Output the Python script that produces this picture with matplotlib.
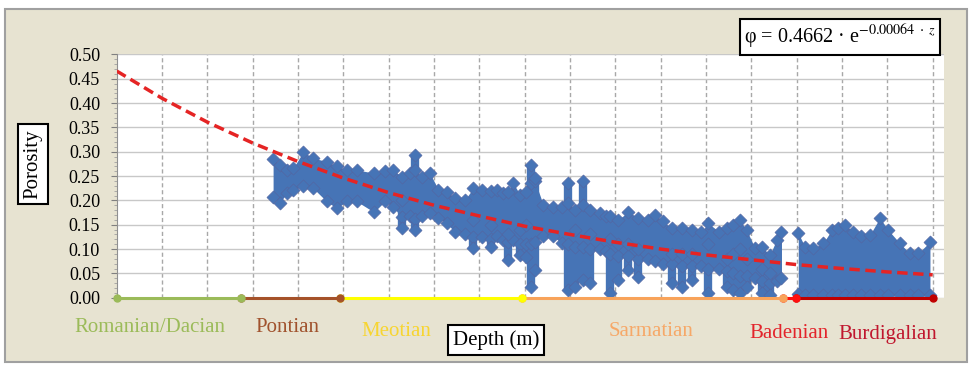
import matplotlib.pyplot as plt
import numpy as np
from matplotlib.patches import Rectangle
from matplotlib.ticker import MultipleLocator

plt.rcParams['font.family'] = ['Liberation Serif', 'DejaVu Serif']
plt.rcParams['mathtext.fontset'] = 'stix'

# --- data ---
# dense porosity band: depth (m), upper edge, lower edge
band_depth = [690, 720, 750, 780, 823, 867, 926, 970, 1015, 1059, 1135, 1183, 1220, 1257,
              1294, 1316, 1345, 1382, 1419, 1456, 1492, 1536, 1573, 1610, 1650, 1676, 1705,
              1727, 1749, 1779, 1808, 1830, 1845, 1882, 1926, 1963, 1992, 2022, 2058, 2088,
              2132, 2160, 2176, 2213, 2257, 2301, 2345, 2375, 2411, 2448, 2492, 2536, 2580,
              2610, 2657, 2691, 2720, 2749, 2779, 2816, 2845, 2882, 2911, 2933,
              3007, 3036, 3073, 3117, 3154, 3183, 3213, 3249, 3286, 3323, 3367, 3404, 3455,
              3499, 3536, 3588]
band_top = [0.285, 0.273, 0.263, 0.267, 0.300, 0.287, 0.280, 0.270, 0.263, 0.263, 0.256, 0.260,
            0.263, 0.249, 0.256, 0.262, 0.249, 0.256, 0.222, 0.218, 0.205, 0.201, 0.225, 0.222,
            0.220, 0.222, 0.215, 0.218, 0.236, 0.212, 0.218, 0.235, 0.240, 0.191, 0.187, 0.187,
            0.195, 0.181, 0.190, 0.181, 0.174, 0.168, 0.167, 0.160, 0.177, 0.164, 0.160, 0.170,
            0.157, 0.143, 0.143, 0.139, 0.136, 0.153, 0.136, 0.143, 0.150, 0.160, 0.139, 0.102,
            0.105, 0.088, 0.119, 0.136,
            0.133, 0.105, 0.102, 0.112, 0.139, 0.143, 0.150, 0.136, 0.126, 0.129, 0.164, 0.139,
            0.112, 0.091, 0.091, 0.115]
band_bottom = [0.208, 0.195, 0.215, 0.222, 0.229, 0.225, 0.198, 0.184, 0.198, 0.198, 0.176, 0.198,
               0.187, 0.165, 0.167, 0.162, 0.167, 0.174, 0.164, 0.153, 0.135, 0.130, 0.125, 0.125,
               0.120, 0.126, 0.119, 0.115, 0.119, 0.110, 0.110, 0.110, 0.115, 0.126, 0.126, 0.112,
               0.110, 0.105, 0.105, 0.100, 0.100, 0.095, 0.090, 0.085, 0.085, 0.080, 0.080, 0.075,
               0.070, 0.070, 0.065, 0.065, 0.065, 0.060, 0.060, 0.055, 0.050, 0.045, 0.045, 0.040,
               0.035, 0.030, 0.035, 0.040,
               0.008, 0.006, 0.006, 0.006, 0.006, 0.006, 0.006, 0.006, 0.006, 0.006, 0.006, 0.006,
               0.006, 0.006, 0.006, 0.006]
gap_depth = 2970  # no samples between the Sarmatian and Badenian clouds

# narrow columns of points sticking out of the band: depth, low end, high end
spike_depth = [1257, 1316, 1573, 1650, 1727, 1779, 1808, 1830, 1845, 1992, 2022, 2058, 2088,
               2176, 2213, 2257, 2301, 2448, 2492, 2536, 2610, 2691, 2720, 2749, 2779, 2845,
               2882]
spike_low = [0.143, 0.139, 0.102, 0.104, 0.078, 0.088, 0.084, 0.023, 0.057, 0.016, 0.023, 0.036,
             0.030, 0.009, 0.036, 0.057, 0.043, 0.030, 0.023, 0.036, 0.009, 0.023, 0.016, 0.009,
             0.023, 0.009, 0.006]
spike_high = [0.200, 0.294, 0.160, 0.150, 0.130, 0.140, 0.150, 0.273, 0.246, 0.236, 0.140, 0.239,
              0.130, 0.120, 0.110, 0.110, 0.100, 0.090, 0.090, 0.090, 0.110, 0.080, 0.090, 0.100,
              0.080, 0.060, 0.050]

# trend line  phi = 0.4662 * exp(-0.00064 z), read every 200 m
trend_depth = [0, 200, 400, 600, 800, 1000, 1200, 1400, 1600, 1800, 2000, 2200, 2400, 2600,
               2800, 3000, 3200, 3400, 3600]
trend_phi = [0.466, 0.410, 0.361, 0.318, 0.280, 0.246, 0.216, 0.190, 0.168, 0.147, 0.130,
             0.114, 0.100, 0.088, 0.078, 0.068, 0.060, 0.053, 0.047]

# stratigraphic stages along the depth axis
stage_names = ['Romanian/Dacian', 'Pontian', 'Meotian', 'Sarmatian', 'Badenian', 'Burdigalian']
stage_top = [0, 550, 985, 1790, 2940, 2997]
stage_base = [550, 985, 1790, 2940, 2997, 3600]
stage_colors = ['#9BBB59', '#A5522A', '#FFFF00', '#F8A35A', '#FF1010', '#C00000']
label_colors = ['#9BBB59', '#A0522D', '#F7D531', '#F6A868', '#E3242B', '#C0172E']
label_x = [150, 287, 396, 651, 789, 888]      # label centres, pixels
label_y = [328, 328, 332, 332, 334, 334]

yticks = [0.00, 0.05, 0.10, 0.15, 0.20, 0.25, 0.30, 0.35, 0.40, 0.45, 0.50]

W, H = 972, 367
fig = plt.figure(figsize=(W / 100, H / 100), dpi=100, facecolor='white')
fig.patches.append(Rectangle((5 / W, 5 / H), 962 / W, 353 / H, transform=fig.transFigure,
                             facecolor='#E7E3D1', edgecolor='#A0A0A0', linewidth=1.5, zorder=-5))

ax = fig.add_axes([116.7 / W, 1 - 297.7 / H, (944 - 116.7) / W, (297.7 - 54.5) / H])
ax.set_facecolor('white')
ax.set_xlim(0, 3650)
ax.set_ylim(0, 0.5)

# grid
ax.set_yticks(yticks)
ax.set_yticklabels([f'{v:.2f}' for v in yticks], fontsize=13)
ax.yaxis.set_minor_locator(MultipleLocator(0.01))
ax.set_xticks(np.arange(200, 3601, 200))
ax.set_xticklabels([])
ax.tick_params(axis='x', length=0)
ax.tick_params(axis='y', which='major', length=4, color='#808080', pad=8)
ax.tick_params(axis='y', which='minor', length=2.5, color='#A0A0A0')
ax.grid(axis='y', color='#C8C8C8', linewidth=1.0)
ax.grid(axis='x', color='#A8A8A8', linestyle=(0, (3, 2)), linewidth=1.0)
ax.set_axisbelow(True)
for side in ['top', 'right', 'bottom']:
    ax.spines[side].set_visible(False)
ax.spines['left'].set_color('#909090')

# porosity cloud
fill_c = '#4674B6'
edge_c = '#55649F'
d = np.array(band_depth)
t = np.array(band_top)
b = np.array(band_bottom)
for m in [d < gap_depth, d > gap_depth]:
    ax.fill_between(d[m], b[m], t[m], color=fill_c, linewidth=0, zorder=2)
ax.vlines(spike_depth, spike_low, spike_high, color=fill_c, linewidth=6, zorder=2)
ax.scatter(np.concatenate([d, d, spike_depth, spike_depth]),
           np.concatenate([t, b, spike_low, spike_high]), marker='D', s=45,
           color=fill_c, edgecolors=edge_c, linewidths=0.4, zorder=3)

# trend line
ax.plot(trend_depth, trend_phi, color='#E52424', linestyle=(0, (3, 1.6)), linewidth=2.5,
        zorder=4)

# stage lines along the depth axis (deepest first so shallower end-dots sit on top)
for i in reversed(range(len(stage_names))):
    ax.plot([stage_top[i], stage_base[i]], [0, 0], color=stage_colors[i], linewidth=2.2,
            marker='o', markersize=5, clip_on=False, zorder=5)

for name, c, x, y in zip(stage_names, label_colors, label_x, label_y):
    fig.text(x / W, 1 - y / H, name, color=c, fontsize=15, ha='center', va='center')

box = dict(boxstyle='square,pad=0.25', facecolor='white', edgecolor='black', linewidth=1.5)
fig.text(33 / W, 1 - 164 / H, 'Porosity', rotation=90, fontsize=15, ha='center', va='center',
         bbox=box)
fig.text(496 / W, 1 - 340 / H, 'Depth (m)', fontsize=15, ha='center', va='center', bbox=box)
fig.text(840 / W, 1 - 37 / H, 'φ = 0.4662 · e$^{-0.00064\\ \\cdot\\ z}$',
         fontsize=14.5, ha='center', va='center',
         bbox=dict(boxstyle='square,pad=0.2', facecolor='white', edgecolor='black',
                   linewidth=1.5))

fig.savefig('out.png', dpi=100, facecolor=fig.get_facecolor())
